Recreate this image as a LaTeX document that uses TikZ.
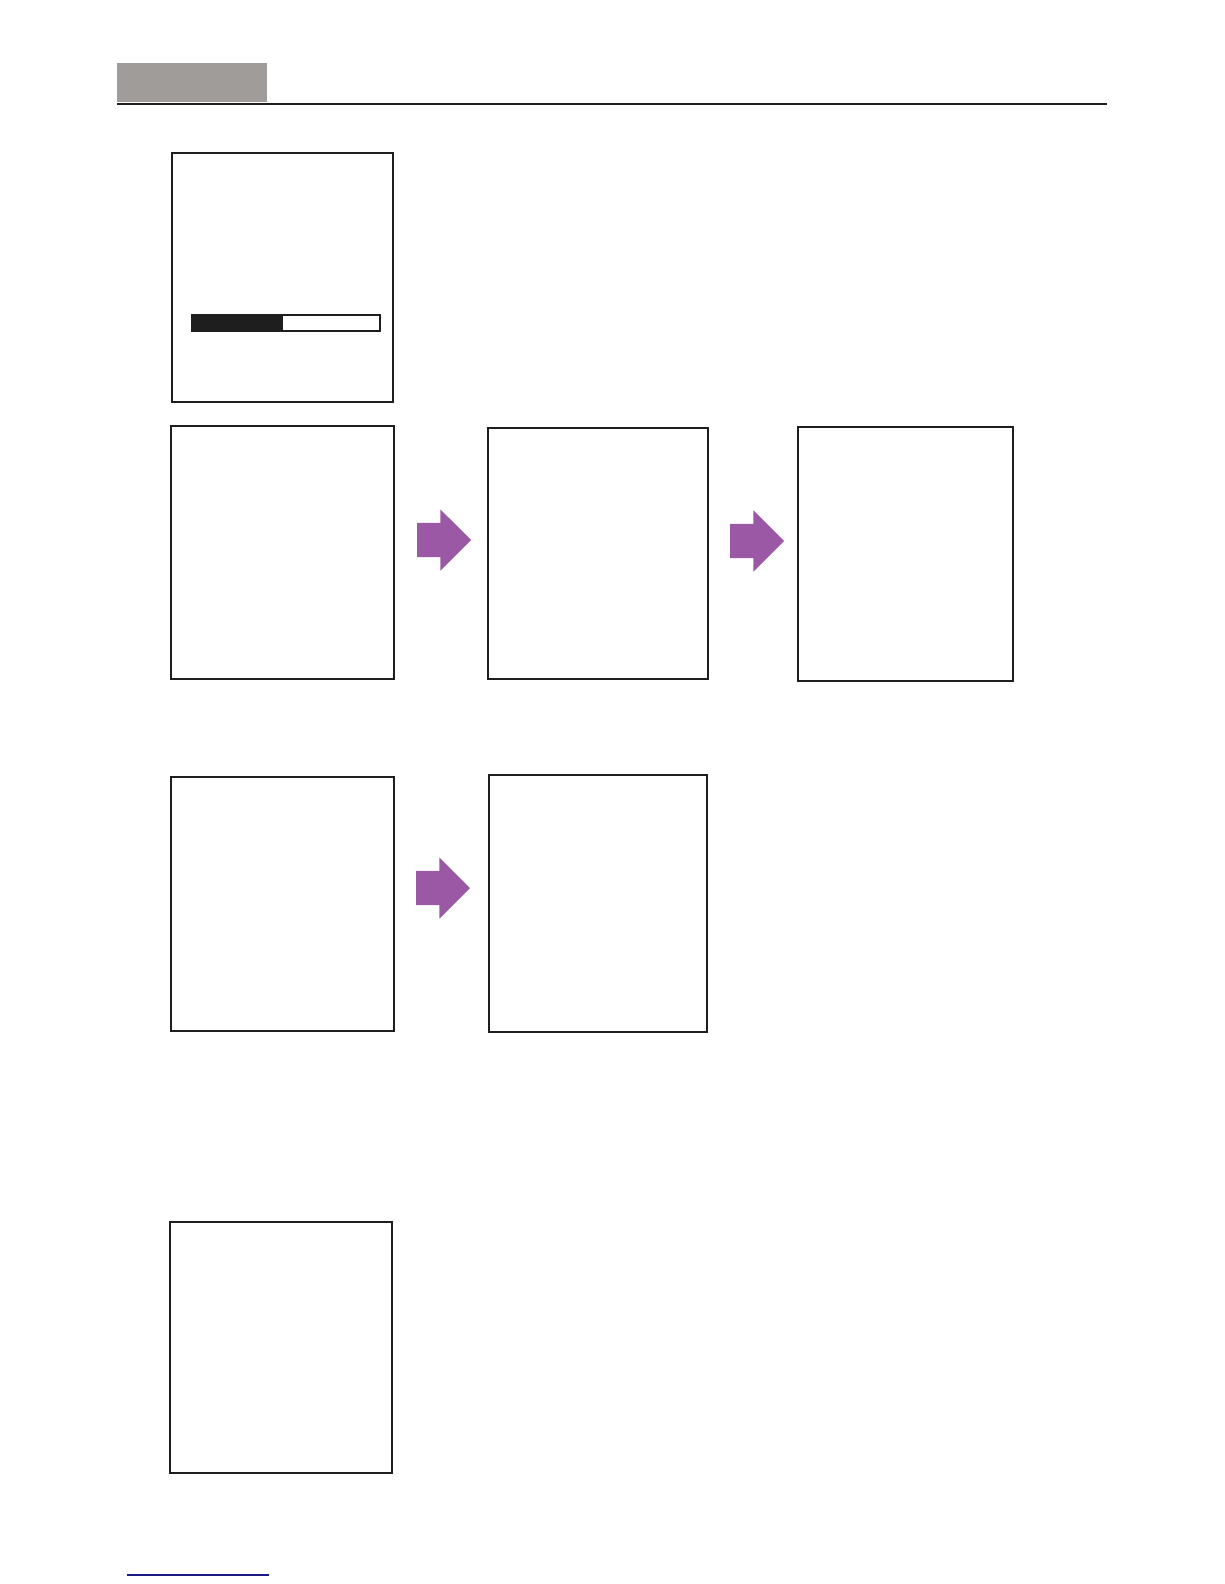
\documentclass[tikz,border=0pt]{standalone}
\usetikzlibrary{shapes.arrows,positioning}
\definecolor{cinzento}{RGB}{160,156,154}
\definecolor{roxo}{RGB}{155,89,165}
\definecolor{marinho}{RGB}{25,25,130}
\definecolor{tinta}{RGB}{30,30,30}
\begin{document}
\begin{tikzpicture}
			[x=1pt, y=-1pt,
			ecra/.style		={rectangle, draw=tinta, line width=1.5pt, fill=white, inner sep=0pt, outer sep=0pt, anchor=north west},
			seta/.style		={single arrow, fill=roxo, draw=none, inner sep=17pt, outer sep=0pt, minimum height=54pt, single arrow head extend=13.5pt, single arrow tip angle=90, anchor=tail},
			barra/.style	={rectangle, draw=tinta, line width=1.5pt, inner sep=0pt, anchor=north west, minimum height=16pt},]
			\useasboundingbox (0,0) rectangle (1224,1584);
			% cabecalho
			\node[fill=cinzento, inner sep=0pt, anchor=north west, minimum width=150pt, minimum height=39pt] (cab) at (117,63) {};
			\draw[tinta, line width=2pt] (117,104) -- (1107,104);
			% ecra de arranque
			\node[ecra, minimum width=221pt, minimum height=249pt]	(inicio)	at (172,153) {};
			\node[barra, minimum width=188pt]						(prog)		at (191,314) {};
			\fill[tinta] (prog.north west) rectangle ([xshift=92pt]prog.south west);
			% primeira linha
			\node[ecra, minimum width=223pt, minimum height=253pt]	(ecraA)		at (171,426) {};
			\node[ecra, minimum width=220pt, minimum height=251pt]	(ecraB)		at (488,428) {};
			\node[ecra, minimum width=215pt, minimum height=254pt]	(ecraC)		at (798,427) {};
			\node[seta] (setaA) at (417,540) {};
			\node[seta] (setaB) at (730,541) {};
			% segunda linha
			\node[ecra, minimum width=223pt, minimum height=254pt]	(ecraD)		at (171,777) {};
			\node[ecra, minimum width=218pt, minimum height=257pt]	(ecraE)		at (489,775) {};
			\draw[tinta, line width=2.5pt] (ecraE.south west) -- (ecraE.south east);
			\node[seta] (setaC) at (416,888) {};
			% ultimo ecra
			\node[ecra, minimum width=222pt, minimum height=251pt]	(ecraF)		at (170,1222) {};
			% rodape
			\draw[marinho, line width=1.5pt] (127,1575) -- (269,1575);
		\end{tikzpicture}
\end{document}
